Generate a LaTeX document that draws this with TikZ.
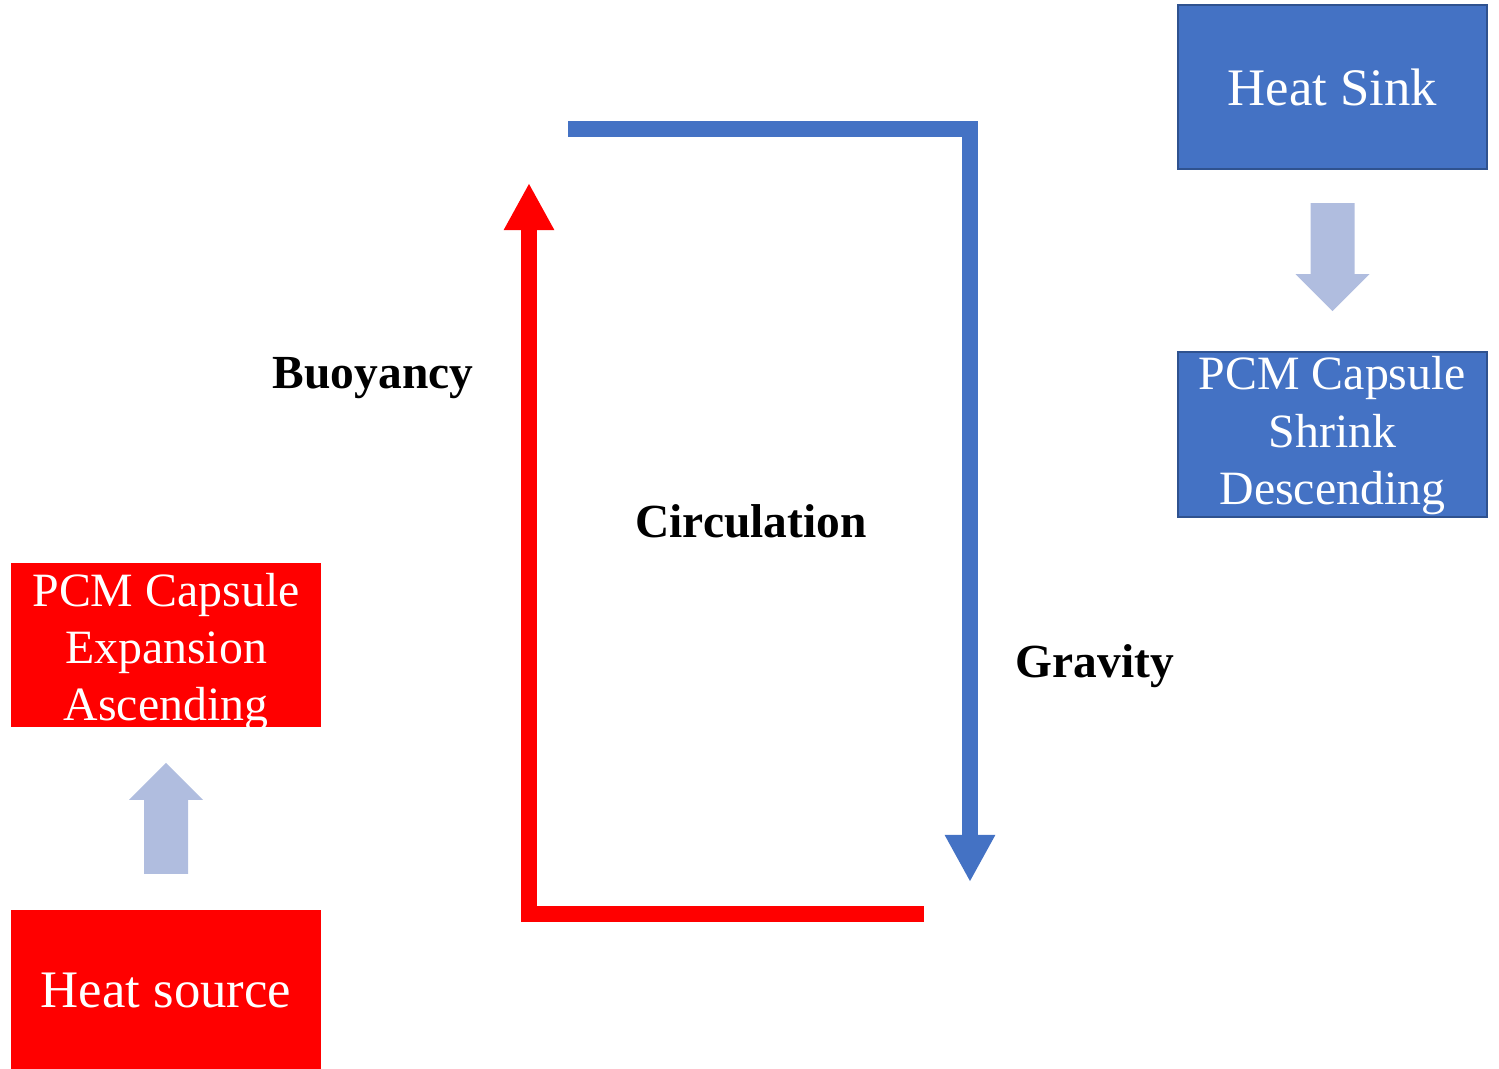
\documentclass[tikz,border=0pt]{standalone}
\usepackage{fontspec}
\setmainfont{Liberation Serif}
\usetikzlibrary{arrows.meta,positioning,calc}
\definecolor{sinkblue}{HTML}{4472C4}
\definecolor{sinkedge}{HTML}{2F528F}
\definecolor{srcred}{HTML}{FF0000}
\definecolor{flowblue}{HTML}{B0BDDF}

\begin{document}
\begin{tikzpicture}[
  x=0.01cm,y=-0.01cm,
  box/.style={minimum width=3.09cm,minimum height=1.64cm,inner sep=0pt,align=center,text=white},
  hot/.style={box,fill=srcred},
  cold/.style={box,fill=sinkblue,draw=sinkedge,line width=0.02cm},
  big/.style={font=\fontsize{15}{18}\selectfont},
  small/.style={font=\fontsize{13.6}{16.3}\selectfont,align=center,text=white,inner sep=0pt},
  lbl/.style={font=\bfseries\fontsize{13.5}{16}\selectfont,anchor=base},
  flow/.style={fill=flowblue},
  loopline/.style={line width=0.16cm,line join=miter,-{Triangle[width=0.47cm,length=0.47cm]}}]
\useasboundingbox (0,0) rectangle (1499,1069);
% boxes
\node[cold,big] (sink) at (1332.5,87) {Heat Sink};
\node[cold,minimum height=1.65cm,below=1.81cm of sink] (shrink) {};
\node[hot] (expand) at (166,645) {};
\node[hot,big,minimum height=1.62cm,below=1.81cm of expand] (source) {Heat source};
\node[small] (shrinktxt) at ($(shrink.center)+(0,1)$) {PCM Capsule\\Shrink\\Descending};
\node[small] (expandtxt) at ($(expand.center)+(0,7)$) {PCM Capsule\\Expansion\\Ascending};
% block arrows
\fill[flow] ($(sink.south)+(-22,33)$) -- ++(44,0) -- ++(0,71) -- ++(15,0)
  -- ++(-37,37) -- ++(-37,-37) -- ++(15,0) -- cycle;
\fill[flow] ($(source.north)+(-22,-35)$) -- ++(44,0) -- ++(0,-74) -- ++(15,0)
  -- ++(-37,-37) -- ++(-37,37) -- ++(15,0) -- cycle;
% circulation loop
\coordinate (riseA) at (924,914);
\coordinate (riseB) at (529,183);
\coordinate (fallA) at (568,129);
\coordinate (fallB) at (970,882);
\draw[loopline,srcred] (riseA) -| (riseB);
\draw[loopline,sinkblue] (fallA) -| (fallB);
% labels
\node[lbl] (buoy) at (373,388) {Buoyancy};
\node[lbl] (circ) at (751,537) {Circulation};
\node[lbl] (grav) at (1095,677) {Gravity};
\end{tikzpicture}
\end{document}
